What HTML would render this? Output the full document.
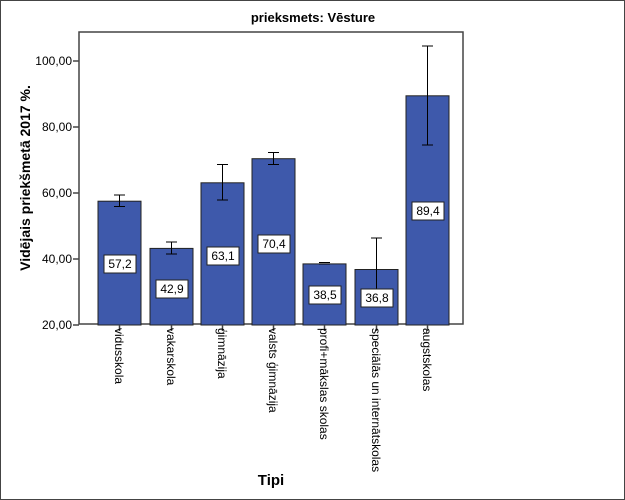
<!DOCTYPE html><html><head><style>body{margin:0}svg{display:block}text{font-family:"Liberation Sans",sans-serif}</style></head><body>
<svg width="625" height="500" xmlns="http://www.w3.org/2000/svg">
<rect x="0.5" y="0.5" width="624" height="499" fill="#fff" stroke="#444"/>
<text x="313" y="22" font-size="13" font-weight="bold" text-anchor="middle">prieksmets: Vēsture</text>
<rect x="79" y="32" width="384" height="292" fill="#fff" stroke="#444" stroke-width="1.5"/>
<g font-size="12" text-anchor="end" fill="#000">
<text x="72" y="65">100,00</text><text x="72" y="131">80,00</text><text x="72" y="197">60,00</text><text x="72" y="263">40,00</text><text x="72" y="329">20,00</text>
</g>
<g stroke="#444" stroke-width="1.5"><line x1="73" y1="61" x2="79" y2="61"/><line x1="73" y1="127" x2="79" y2="127"/><line x1="73" y1="193" x2="79" y2="193"/><line x1="73" y1="259" x2="79" y2="259"/><line x1="73" y1="325" x2="79" y2="325"/></g>
<text transform="translate(30,178) rotate(-90)" font-size="14" font-weight="bold" text-anchor="middle">Vidējais priekšmetā 2017 %.</text>
<text x="271" y="485" font-size="15" font-weight="bold" text-anchor="middle">Tipi</text>
<g id="bars"></g>
<g fill="#3e59ab" stroke="#222" stroke-width="1">
<rect x="98" y="201.2" width="43" height="123.8"/>
<rect x="150" y="248.4" width="43" height="76.6"/>
<rect x="201" y="182.8" width="43" height="142.2"/>
<rect x="252" y="158.7" width="43" height="166.3"/>
<rect x="303" y="263.9" width="43" height="61.1"/>
<rect x="355" y="269.5" width="43" height="55.5"/>
<rect x="406" y="95.8" width="43" height="229.2"/>
</g>
<g stroke="#000" stroke-width="1">
<line x1="119.5" y1="206.5" x2="119.5" y2="195" /><line x1="114" y1="206.5" x2="125" y2="206.5"/><line x1="114" y1="195" x2="125" y2="195"/>
<line x1="171.5" y1="254" x2="171.5" y2="242" /><line x1="166" y1="254" x2="177" y2="254"/><line x1="166" y1="242" x2="177" y2="242"/>
<line x1="222.5" y1="200" x2="222.5" y2="164.5" /><line x1="217" y1="200" x2="228" y2="200"/><line x1="217" y1="164.5" x2="228" y2="164.5"/>
<line x1="273.5" y1="164.5" x2="273.5" y2="152.5" /><line x1="268" y1="164.5" x2="279" y2="164.5"/><line x1="268" y1="152.5" x2="279" y2="152.5"/>
<line x1="319" y1="264" x2="330" y2="264"/><line x1="319" y1="262.5" x2="330" y2="262.5"/>
<line x1="376.5" y1="305" x2="376.5" y2="238" /><line x1="371" y1="305" x2="382" y2="305"/><line x1="371" y1="238" x2="382" y2="238"/>
<line x1="427.5" y1="145" x2="427.5" y2="46" /><line x1="422" y1="145" x2="433" y2="145"/><line x1="422" y1="46" x2="433" y2="46"/>
</g>
<g font-size="12" text-anchor="middle">
<rect x="104" y="255" width="32" height="18" fill="#fff" stroke="#222"/><text x="120" y="268">57,2</text>
<rect x="156" y="280" width="32" height="18" fill="#fff" stroke="#222"/><text x="172" y="293">42,9</text>
<rect x="207" y="247" width="32" height="18" fill="#fff" stroke="#222"/><text x="223" y="260">63,1</text>
<rect x="258" y="235" width="32" height="18" fill="#fff" stroke="#222"/><text x="274" y="248">70,4</text>
<rect x="309" y="286" width="32" height="18" fill="#fff" stroke="#222"/><text x="325" y="299">38,5</text>
<rect x="361" y="289" width="32" height="18" fill="#fff" stroke="#222"/><text x="377" y="302">36,8</text>
<rect x="412" y="202" width="32" height="18" fill="#fff" stroke="#222"/><text x="428" y="215">89,4</text>
</g>
<g stroke="#444" stroke-width="1.5"><line x1="119.5" y1="325" x2="119.5" y2="331"/><line x1="171.5" y1="325" x2="171.5" y2="331"/><line x1="222.5" y1="325" x2="222.5" y2="331"/><line x1="273.5" y1="325" x2="273.5" y2="331"/><line x1="324.5" y1="325" x2="324.5" y2="331"/><line x1="376.5" y1="325" x2="376.5" y2="331"/><line x1="427.5" y1="325" x2="427.5" y2="331"/></g>
<g font-size="12">
<text transform="translate(115,328) rotate(90)">vidusskola</text>
<text transform="translate(167,328) rotate(90)">vakarskola</text>
<text transform="translate(218,328) rotate(90)">ģimnāzija</text>
<text transform="translate(269,328) rotate(90)">valsts ģimnāzija</text>
<text transform="translate(320,328) rotate(90)">profi+mākslas skolas</text>
<text transform="translate(372,328) rotate(90)">speciālās un internātskolas</text>
<text transform="translate(423,328) rotate(90)">augstskolas</text>
</g>
</svg></body></html>
